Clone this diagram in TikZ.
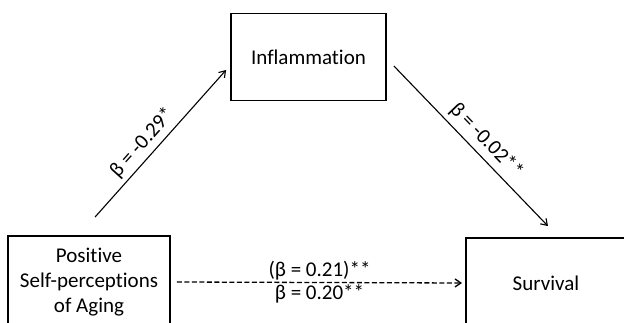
\documentclass[tikz,border=0pt]{standalone}
\usepackage{fontspec}
\setmainfont{Carlito}[Ligatures=NoCommon]
\usetikzlibrary{arrows.meta,positioning,calc}

\begin{document}
\begin{tikzpicture}[
  x=1pt, y=-1pt,
  font=\fontsize{21}{25}\selectfont,
  var/.style={draw, line width=1.8pt, align=center, inner sep=2pt},
  arr/.style={-{Straight Barb[length=6pt, width=8pt]}, line width=1.1pt},
  lab/.style={inner sep=2pt}
]
\clip (0,0) rectangle (624,323);
\useasboundingbox (0,0) rectangle (624,323);

% ---- Variables ----
\node[var, minimum width=155pt, minimum height=87pt] (inflam) at (308.5,57) {Inflammation};
\node[var, minimum width=162pt, minimum height=92pt] (aging) at (89,282)
  {Positive\\ Self-perceptions\\ of Aging};
\node[var, minimum width=160pt, minimum height=90pt] (surv) at (546,283) {Survival};

% ---- Paths ----
\draw[arr] ([shift={(6,-18)}]aging.north) -- ([shift={(-4,13)}]inflam.west)
  node[lab, pos=0.44, sloped, above=2pt] {β = -0.29*};
\draw[arr] ([shift={(7,9)}]inflam.east) -- ([shift={(2,-11)}]surv.north)
  node[lab, pos=0.53, sloped, above=3pt] {β = -0.02**};
\draw[arr, dash pattern=on 5pt off 2.5pt, line width=1.3pt] ([xshift=6pt]aging.east) -- ([xshift=-3pt]surv.west)
  node[lab, midway, above=0pt] {(β = 0.21)**}
  node[lab, midway, below=-1pt] {β = 0.20**};

\end{tikzpicture}
\end{document}
